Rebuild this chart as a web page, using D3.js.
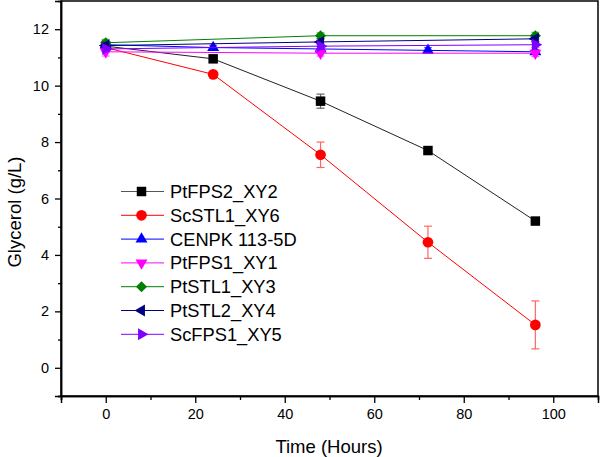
<!DOCTYPE html>
<html>
<head>
<meta charset="utf-8">
<script src="https://cdn.jsdelivr.net/npm/d3@7"></script>
<style>
  html, body { margin: 0; padding: 0; background: #fff; }
  svg { display: block; font-family: Helvetica, Arial, "Liberation Sans", sans-serif; }
</style>
</head>
<body>
<svg id="chart" width="600" height="457"></svg>
<script>
// ---- data ----
const timesFull = [0, 24, 48, 72, 96];
const timesShort = [0, 48, 96];

const seriesNames = ["PtFPS2_XY2", "ScSTL1_XY6", "CENPK 113-5D", "PtFPS1_XY1", "PtSTL1_XY3", "PtSTL2_XY4", "ScFPS1_XY5"];

const ptFPS2Values = [11.4, 10.95, 9.45, 7.7, 5.2];
const ptFPS2Errors = [0.12, 0.1, 0.25, 0.08, 0.08];

const scSTL1Values = [11.35, 10.4, 7.55, 4.45, 1.52];
const scSTL1Errors = [0.1, 0.08, 0.45, 0.57, 0.85];

const cenpkValues = [11.45, 11.35, 11.3, 11.25, 11.2];
const cenpkErrors = [0.15, 0.08, 0.08, 0.1, 0.08];

const ptFPS1Values = [11.2, 11.15, 11.15];
const ptFPS1Errors = [0.15, 0.1, 0.12];

const ptSTL1Values = [11.52, 11.77, 11.77];
const ptSTL1Errors = [0.12, 0.1, 0.12];

const ptSTL2Values = [11.42, 11.55, 11.66];
const ptSTL2Errors = [0.1, 0.1, 0.1];

const scFPS1Values = [11.3, 11.4, 11.45];
const scFPS1Errors = [0.1, 0.1, 0.1];

const xTicks = [0, 20, 40, 60, 80, 100];
const xMinorTicks = [-10, 10, 30, 50, 70, 90];
const yTicks = [0, 2, 4, 6, 8, 10, 12];
const yMinorTicks = [-1, 1, 3, 5, 7, 9, 11];

// ---- build table for drawing ----
const series = [
  { name: seriesNames[0], t: timesFull, v: ptFPS2Values, e: ptFPS2Errors, color: "#000000", line: "#222222", sym: "square" },
  { name: seriesNames[1], t: timesFull, v: scSTL1Values, e: scSTL1Errors, color: "#ff0000", line: "#ff0000", sym: "circle" },
  { name: seriesNames[2], t: timesFull, v: cenpkValues, e: cenpkErrors, color: "#0000ff", line: "#0000ff", sym: "up" },
  { name: seriesNames[3], t: timesShort, v: ptFPS1Values, e: ptFPS1Errors, color: "#ff00ff", line: "#ff00ff", sym: "down" },
  { name: seriesNames[4], t: timesShort, v: ptSTL1Values, e: ptSTL1Errors, color: "#008000", line: "#008000", sym: "diamond" },
  { name: seriesNames[5], t: timesShort, v: ptSTL2Values, e: ptSTL2Errors, color: "#000080", line: "#000080", sym: "left" },
  { name: seriesNames[6], t: timesShort, v: scFPS1Values, e: scFPS1Errors, color: "#8000ff", line: "#8000ff", sym: "right" }
];

const svg = d3.select("#chart");
const pLeft = 61, pRight = 598, pTop = 1, pBottom = 396;

const x = d3.scaleLinear().domain([-10, 110]).range([pLeft, pRight]);
const y = d3.scaleLinear().domain([-1, 13]).range([pBottom, pTop]);

function symbolPath(kind) {
  switch (kind) {
    case "square": return { d: d3.symbol(d3.symbolSquare, 90)(), rot: 0 };
    case "circle": return { d: d3.symbol(d3.symbolCircle, 90)(), rot: 0 };
    case "up": return { d: d3.symbol(d3.symbolTriangle, 62)(), rot: 0 };
    case "down": return { d: d3.symbol(d3.symbolTriangle, 62)(), rot: 180 };
    case "left": return { d: d3.symbol(d3.symbolTriangle, 62)(), rot: -90 };
    case "right": return { d: d3.symbol(d3.symbolTriangle, 62)(), rot: 90 };
    case "diamond": return { d: d3.symbol(d3.symbolSquare, 62)(), rot: 45 };
  }
}

// frame
svg.append("rect")
  .attr("x", pLeft).attr("y", pTop)
  .attr("width", pRight - pLeft).attr("height", pBottom - pTop)
  .attr("fill", "none").attr("stroke", "#000").attr("stroke-width", 1.5);

// axes
svg.append("g").attr("transform", `translate(0,${pBottom})`)
  .call(d3.axisBottom(x).tickValues(xTicks).tickSize(7).tickPadding(6).tickFormat(d3.format("d")));
svg.append("g").attr("transform", `translate(0,${pBottom})`)
  .call(d3.axisBottom(x).tickValues(xMinorTicks).tickSize(4).tickFormat(""));
svg.append("g").attr("transform", `translate(${pLeft},0)`)
  .call(d3.axisLeft(y).tickValues(yTicks).tickSize(6).tickPadding(6).tickFormat(d3.format("d")));
svg.append("g").attr("transform", `translate(${pLeft},0)`)
  .call(d3.axisLeft(y).tickValues(yMinorTicks).tickSize(3).tickFormat(""));

svg.selectAll(".domain").attr("stroke", "#000").attr("stroke-width", 1.5);
svg.selectAll(".tick line").attr("stroke", "#000").attr("stroke-width", 1.3);
svg.selectAll(".tick text").attr("font-size", 14.5).attr("fill", "#000")
  .attr("font-family", "Helvetica, Arial, 'Liberation Sans', sans-serif");

// axis titles
svg.append("text").attr("x", 329).attr("y", 453)
  .attr("text-anchor", "middle").attr("font-size", 18.5).text("Time (Hours)");
svg.append("text").attr("transform", `translate(21,212) rotate(-90)`)
  .attr("text-anchor", "middle").attr("font-size", 18.5).text("Glycerol (g/L)");

// series
const lineGen = d3.line().x(d => x(d[0])).y(d => y(d[1]));
series.forEach(s => {
  const pts = s.t.map((t, i) => [t, s.v[i], s.e[i]]);
  const g = svg.append("g");
  g.append("path").datum(pts).attr("d", lineGen)
    .attr("fill", "none").attr("stroke", s.line).attr("stroke-width", 1);
  const eb = g.selectAll(".eb").data(pts).enter().append("g").attr("opacity", 0.6);
  eb.append("line")
    .attr("x1", d => x(d[0])).attr("x2", d => x(d[0]))
    .attr("y1", d => y(d[1] - d[2])).attr("y2", d => y(d[1] + d[2]))
    .attr("stroke", s.color).attr("stroke-width", 1.2);
  eb.append("line")
    .attr("x1", d => x(d[0]) - 4).attr("x2", d => x(d[0]) + 4)
    .attr("y1", d => y(d[1] + d[2])).attr("y2", d => y(d[1] + d[2]))
    .attr("stroke", s.color).attr("stroke-width", 1.2);
  eb.append("line")
    .attr("x1", d => x(d[0]) - 4).attr("x2", d => x(d[0]) + 4)
    .attr("y1", d => y(d[1] - d[2])).attr("y2", d => y(d[1] - d[2]))
    .attr("stroke", s.color).attr("stroke-width", 1.2);
  const sp = symbolPath(s.sym);
  g.selectAll(".m").data(pts).enter().append("path")
    .attr("d", sp.d)
    .attr("transform", d => `translate(${x(d[0])},${y(d[1])}) rotate(${sp.rot})`)
    .attr("fill", s.color);
});

// legend
const legend = svg.append("g");
series.forEach((s, i) => {
  const ly = 191.5 + i * 23.8;
  legend.append("line").attr("x1", 121).attr("x2", 164).attr("y1", ly).attr("y2", ly)
    .attr("stroke", s.color === "#000000" ? "#555" : s.color).attr("stroke-width", 1);
  const sp = symbolPath(s.sym);
  legend.append("path").attr("d", sp.d)
    .attr("transform", `translate(141.5,${ly}) rotate(${sp.rot})`)
    .attr("fill", s.color);
  legend.append("text").attr("x", 170).attr("y", ly + 6.5)
    .attr("font-size", 18.3).attr("fill", "#000").text(s.name);
});
</script>
</body>
</html>
